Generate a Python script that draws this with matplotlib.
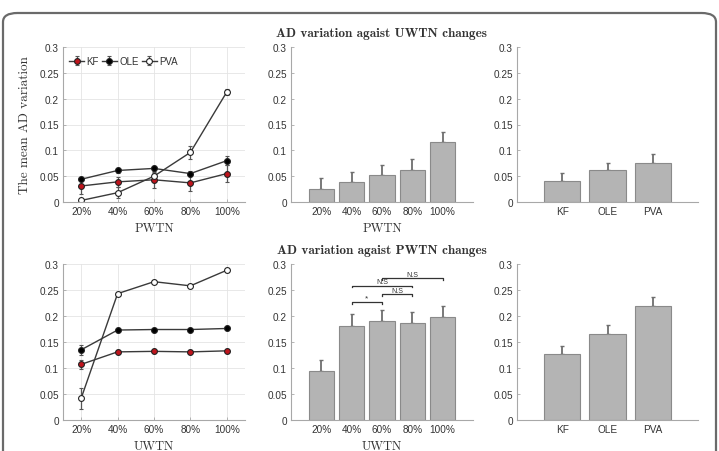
import matplotlib
matplotlib.use("Agg")
import matplotlib.pyplot as plt
from matplotlib.patches import FancyBboxPatch
import numpy as np

# ---------------- data ----------------
pct_labels = ['20%', '40%', '60%', '80%', '100%']
methods = ['KF', 'OLE', 'PVA']

# AD variation vs PWTN (line plot, top-left)
kf_p = [0.031, 0.039, 0.043, 0.037, 0.055]
kf_p_err = [0.015, 0.010, 0.015, 0.015, 0.016]
ole_p = [0.044, 0.061, 0.065, 0.055, 0.080]
ole_p_err = [0.004, 0.005, 0.005, 0.005, 0.009]
pva_p = [0.003, 0.018, 0.050, 0.096, 0.213]
pva_p_err = [0.003, 0.011, 0.006, 0.012, 0.006]

# AD variation vs UWTN (line plot, bottom-left)
kf_u = [0.107, 0.131, 0.132, 0.131, 0.133]
kf_u_err = [0.008, 0.003, 0.003, 0.003, 0.003]
ole_u = [0.135, 0.173, 0.174, 0.174, 0.176]
ole_u_err = [0.010, 0.003, 0.003, 0.003, 0.003]
pva_u = [0.042, 0.243, 0.266, 0.258, 0.288]
pva_u_err = [0.020, 0.003, 0.003, 0.003, 0.003]

# bar charts
bar_p = [0.026, 0.039, 0.052, 0.062, 0.116]
bar_p_err = [0.020, 0.020, 0.020, 0.021, 0.020]
bar_pm = [0.041, 0.061, 0.076]
bar_pm_err = [0.015, 0.015, 0.016]
bar_u = [0.095, 0.181, 0.190, 0.187, 0.198]
bar_u_err = [0.020, 0.022, 0.022, 0.021, 0.022]
bar_um = [0.126, 0.166, 0.220]
bar_um_err = [0.017, 0.017, 0.017]

# significance brackets on bottom-middle panel: (bar i, bar j, height, label)
sig_pairs = [(2, 3, 0.227, '*'), (3, 4, 0.242, 'N.S'),
             (2, 4, 0.258, 'N.S'), (3, 5, 0.273, 'N.S')]

yticks = [0, 0.05, 0.1, 0.15, 0.2, 0.25, 0.3]
ytick_labels = ['0', '0.05', '0.1', '0.15', '0.2', '0.25', '0.3']

# ---------------- figure ----------------
W, H = 719, 452
fig = plt.figure(figsize=(W / 100, H / 100), dpi=100)
fig.patch.set_facecolor('white')

# rounded frame
frame = FancyBboxPatch((3 / W, -0.2), (713 / W), (H - 14) / H + 0.2 - 0.0,
                       boxstyle="round,pad=0,rounding_size=0.02",
                       transform=fig.transFigure, facecolor='none',
                       edgecolor='#6a6a6a', linewidth=1.6, clip_on=False)
fig.patches.append(frame)


def ax_at(x0, y0, x1, y1):
    return fig.add_axes([x0 / W, 1 - y1 / H, (x1 - x0) / W, (y1 - y0) / H])


TICK_FONT = dict(family='Liberation Sans', size=7.2, color='#333333')
SERIF = 'cmr10'
SERIF_B = 'cmb10'


def style(ax, grid):
    for s in ['top', 'right']:
        ax.spines[s].set_visible(False)
    for s in ['left', 'bottom']:
        ax.spines[s].set_color('#a8a8a8')
        ax.spines[s].set_linewidth(0.8)
    ax.set_ylim(0, 0.3)
    ax.set_yticks(yticks)
    ax.set_yticklabels(ytick_labels, fontdict=TICK_FONT)
    ax.tick_params(direction='in', length=2, width=0.6, colors='#a8a8a8',
                   labelcolor='#333333', pad=3)
    if grid:
        ax.grid(True, color='#e4e4e4', linewidth=0.6)
        ax.set_axisbelow(True)


def line_panel(ax, series, legend):
    x = np.arange(1, 6)
    styles = [('KF', '#c0141c'), ('OLE', '#000000'), ('PVA', '#ffffff')]
    for (name, fc), (vals, errs) in zip(styles, series):
        ax.errorbar(x, vals, yerr=errs, color='#3a3a3a', lw=1.0,
                    marker='o', ms=4.2, mfc=fc, mec='#222222', mew=0.8,
                    ecolor='#555555', elinewidth=0.9, capsize=1.2, label=name)
    ax.set_xlim(0.5, 5.5)
    ax.set_xticks(x)
    ax.set_xticklabels(pct_labels, fontdict=TICK_FONT)
    if legend:
        leg = ax.legend(loc='upper left', ncol=3, frameon=False,
                        prop={'family': 'Liberation Sans', 'size': 7},
                        handlelength=1.6, handletextpad=0.2, columnspacing=0.3,
                        borderaxespad=0.2, bbox_to_anchor=(0.0, 0.98))
        for t in leg.get_texts():
            t.set_color('#333333')


def bar_panel(ax, vals, errs, labels):
    x = np.arange(1, len(vals) + 1)
    width = 0.83 if len(vals) == 5 else 0.8
    ax.bar(x, vals, width=width, color='#b4b4b4', edgecolor='#8a8a8a', lw=0.8, zorder=2)
    ax.errorbar(x, vals, yerr=[np.zeros(len(errs)), errs], fmt='none',
                ecolor='#6e6e6e', elinewidth=1.3, capsize=1.5, capthick=1.0, zorder=1)
    ax.set_xlim(0, len(vals) + 1)
    ax.set_xticks(x)
    ax.set_xticklabels(labels, fontdict=TICK_FONT)
    ax.tick_params(axis='x', length=0)


# top row
ax1 = ax_at(63, 48, 245, 203)
style(ax1, True)
line_panel(ax1, [(kf_p, kf_p_err), (ole_p, ole_p_err), (pva_p, pva_p_err)], True)
ax1.set_xlabel('PWTN', family=SERIF, fontsize=9, color='#333333', labelpad=4)
ax1.set_ylabel('The mean AD variation', family=SERIF, fontsize=9.5, color='#333333', labelpad=6)

ax2 = ax_at(291, 48, 473, 203)
style(ax2, False)
bar_panel(ax2, bar_p, bar_p_err, pct_labels)
ax2.set_xlabel('PWTN', family=SERIF, fontsize=9, color='#333333', labelpad=4)
ax2.set_title('AD variation agaist UWTN changes', family=SERIF_B, fontsize=9.5,
              color='#333333', pad=8)

ax3 = ax_at(517, 48, 698, 203)
style(ax3, False)
bar_panel(ax3, bar_pm, bar_pm_err, methods)

# bottom row
ax4 = ax_at(63, 265, 245, 421)
style(ax4, True)
line_panel(ax4, [(kf_u, kf_u_err), (ole_u, ole_u_err), (pva_u, pva_u_err)], False)
ax4.set_xlabel('UWTN', family=SERIF, fontsize=9, color='#333333', labelpad=4)

ax5 = ax_at(291, 265, 473, 421)
style(ax5, False)
bar_panel(ax5, bar_u, bar_u_err, pct_labels)
ax5.set_xlabel('UWTN', family=SERIF, fontsize=9, color='#333333', labelpad=4)
ax5.set_title('AD variation agaist PWTN changes', family=SERIF_B, fontsize=9.5,
              color='#333333', pad=8)
for i, j, yv, lab in sig_pairs:
    ax5.plot([i, i, j, j], [yv - 0.003, yv, yv, yv - 0.003], color='#333333', lw=0.9)
    ax5.text((i + j) / 2, yv + 0.001, lab, ha='center', va='bottom',
             fontsize=5 if lab != '*' else 6, family='Liberation Sans', color='#333333')

ax6 = ax_at(517, 265, 698, 421)
style(ax6, False)
bar_panel(ax6, bar_um, bar_um_err, methods)

fig.savefig('out.png', dpi=100, facecolor='white')
